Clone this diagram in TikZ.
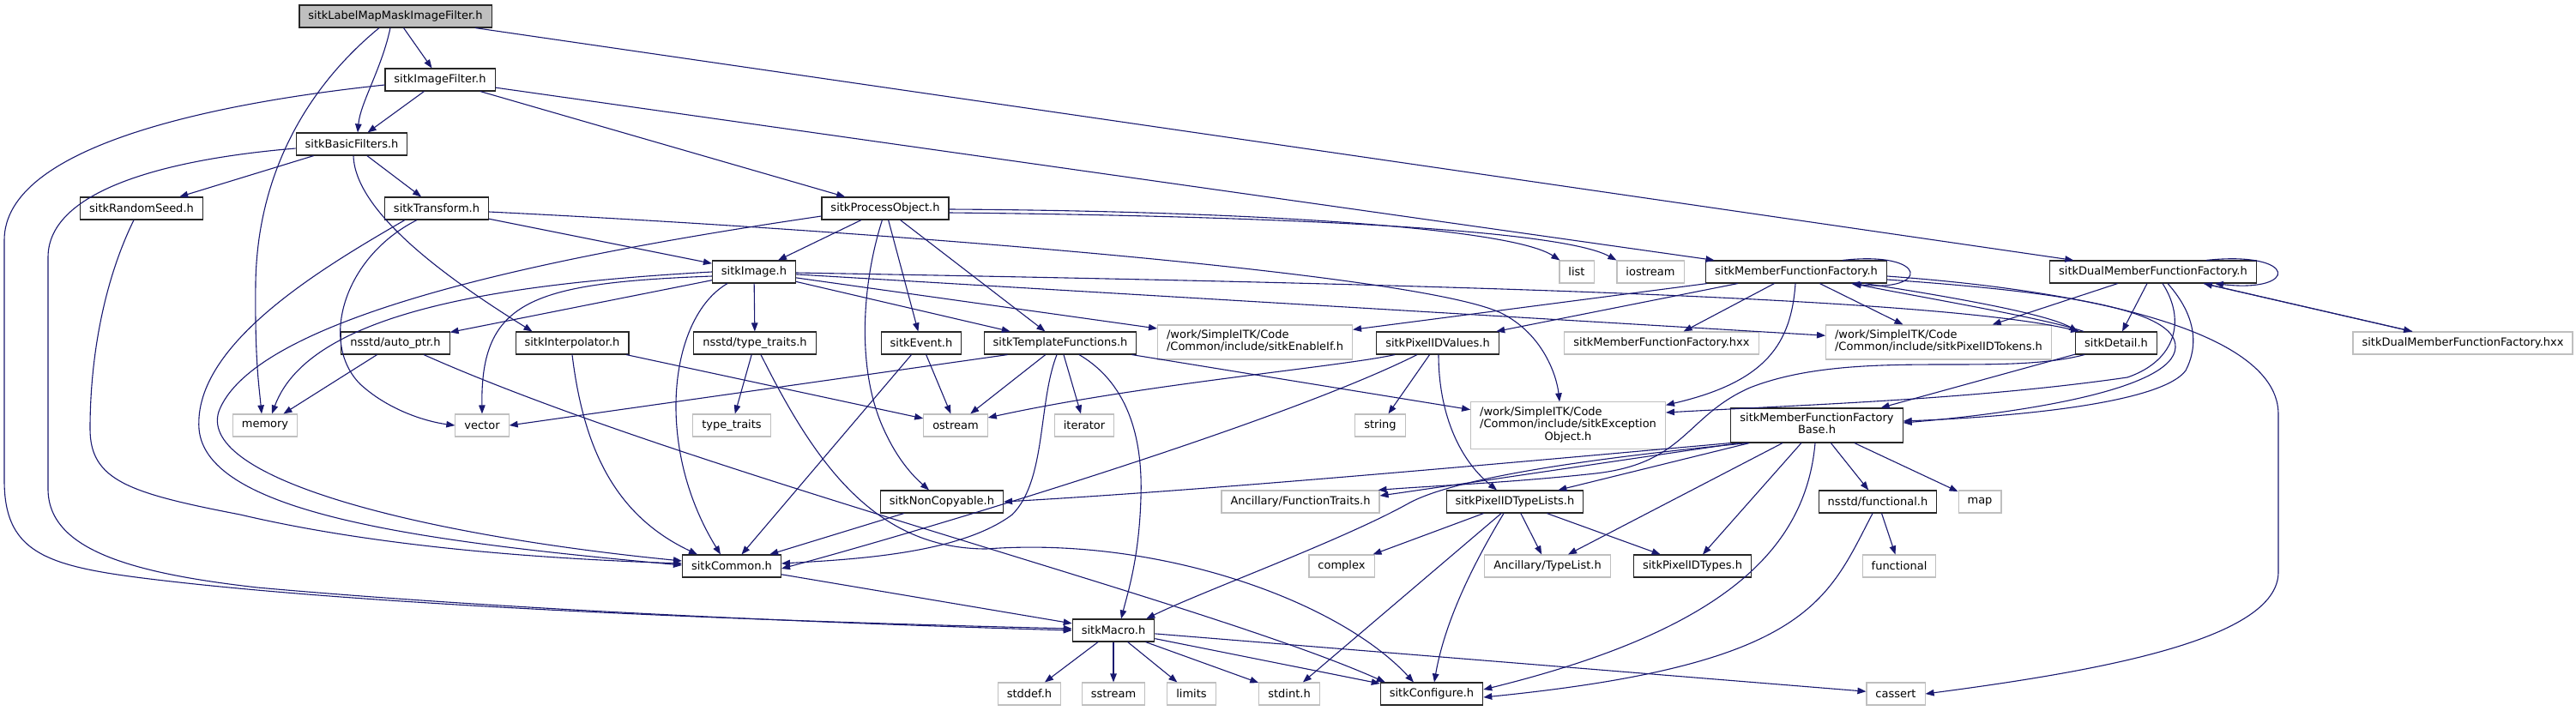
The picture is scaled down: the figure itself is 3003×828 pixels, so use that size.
\documentclass[tikz,border=0pt]{standalone}
\usepackage{fontspec}
\newfontfamily\dejavu{DejaVu Sans}
\usepackage{tikz}
\usetikzlibrary{
  arrows.meta,
  calc
}
\definecolor{midnight}{HTML}{191970}
\definecolor{grey75}{HTML}{BFBFBF}
\colorlet{headerBorder}{black!85}
\colorlet{systemBorder}{grey75}
\tikzset{
  every header/.style={draw=headerBorder,fill=white,line width=1.1pt,
    inner xsep=10.5pt,inner ysep=5.8pt,minimum height=26pt,
    font=\dejavu\fontsize{13}{14.2}\selectfont},
  header/.style={every header},
  sysheader/.style={every header,draw=systemBorder},
  mainheader/.style={every header,fill=grey75},
  include/.style={draw=midnight,line width=1.1pt,
    -{Triangle[length=10pt,width=7.5pt]}},
}

\begin{document}
\begin{tikzpicture}[x=1pt,y=-1pt]
\useasboundingbox (0,0) rectangle (3003,828);
% rows of headers
\node[mainheader] (root) at (461,19) {sitkLabelMapMaskImageFilter.h};
\node[header] (imgfilter) at (513,93) {sitkImageFilter.h};
\node[header] (basic) at (410,168) {sitkBasicFilters.h};
\node[header] (seed) at (165,243) {sitkRandomSeed.h};
\node[header] (transform) at (509,243) {sitkTransform.h};
\node[header] (procobj) at (1032,243) {sitkProcessObject.h};
\node[header] (image) at (879,317) {sitkImage.h};
\node[sysheader] (list) at (1838,317) {list};
\node[sysheader] (iostream) at (1924,317) {iostream};
\node[header] (mff) at (2094,317) {sitkMemberFunctionFactory.h};
\node[header] (dual) at (2510,317) {sitkDualMemberFunctionFactory.h};
\node[header] (autoptr) at (461,400) {nsstd/auto\_ptr.h};
\node[header] (interp) at (667,400) {sitkInterpolator.h};
\node[header] (nstraits) at (880,400) {nsstd/type\_traits.h};
\node[header] (event) at (1074,400) {sitkEvent.h};
\node[header] (tmplfn) at (1236,400) {sitkTemplateFunctions.h};
\node[sysheader] (enableif) at (1463,399) {\begin{tabular}{@{}l@{}}/work/SimpleITK/Code\\/Common/include/sitkEnableIf.h\end{tabular}};
\node[header] (pixvalues) at (1676,400) {sitkPixelIDValues.h};
\node[sysheader] (mffhxx) at (1937,400) {sitkMemberFunctionFactory.hxx};
\node[sysheader] (tokens) at (2260,399) {\begin{tabular}{@{}l@{}}/work/SimpleITK/Code\\/Common/include/sitkPixelIDTokens.h\end{tabular}};
\node[header] (detail) at (2467,400) {sitkDetail.h};
\node[sysheader] (dualhxx) at (2871,400) {sitkDualMemberFunctionFactory.hxx};
\node[sysheader] (memory) at (309,496) {memory};
\node[sysheader] (vector) at (562,496) {vector};
\node[sysheader] (typetraits) at (853,496) {type\_traits};
\node[sysheader] (ostream) at (1114,496) {ostream};
\node[sysheader] (iterator) at (1264,496) {iterator};
\node[sysheader] (string) at (1609,496) {string};
\node[sysheader] (exception) at (1828,496) {\begin{tabular}{@{}l@{}}/work/SimpleITK/Code\\/Common/include/sitkException\\\multicolumn{1}{@{}c@{}}{Object.h}\end{tabular}};
\node[header] (mffbase) at (2118,496) {\begin{tabular}{@{}c@{}}sitkMemberFunctionFactory\\Base.h\end{tabular}};
\node[header] (noncopy) at (1098,585) {sitkNonCopyable.h};
\node[sysheader] (functraits) at (1516,585) {Ancillary/FunctionTraits.h};
\node[header] (typelists) at (1766,585) {sitkPixelIDTypeLists.h};
\node[header] (functionalh) at (2189,585) {nsstd/functional.h};
\node[sysheader] (map) at (2308,585) {map};
\node[header] (common) at (853,660) {sitkCommon.h};
\node[sysheader] (complex) at (1564,660) {complex};
\node[sysheader] (typelist) at (1804,660) {Ancillary/TypeList.h};
\node[header] (pixtypes) at (1973,660) {sitkPixelIDTypes.h};
\node[sysheader] (functional) at (2214,660) {functional};
\node[header] (macro) at (1298,735) {sitkMacro.h};
\node[sysheader] (stddef) at (1200,809) {stddef.h};
\node[sysheader] (sstream) at (1298,809) {sstream};
\node[sysheader] (limits) at (1389,809) {limits};
\node[sysheader] (stdint) at (1503,809) {stdint.h};
\node[header] (configure) at (1669,809) {sitkConfigure.h};
\node[sysheader] (cassert) at (2210,809) {cassert};

% includes of the filter headers
\draw[include] (root) -- (imgfilter);
\draw[include] ($(root.south)+(-6,0)$) .. controls (445,80) and (420,120) .. ($(basic.north)+(7,0)$);
\draw[include] ($(root.south)+(-19,0)$) .. controls (360,100) and (300,200) .. (298,330) .. controls (297,420) and (302,450) .. ($(memory.north)+(-4,0)$);
\draw[include] (root) -- (dual);
\draw[include] (imgfilter) -- (basic);
\draw[include] (imgfilter) -- (procobj);
\draw[include] (imgfilter) -- (mff);
\draw[include] ($(imgfilter.west)+(0,6)$) .. controls (250,120) and (5,170) .. (5,280) -- (5,560) .. controls (5,650) and (60,662) .. (200,678) .. controls (500,712) and (1000,727) .. ($(macro.west)+(0,-2)$);
\draw[include] (basic) -- (seed);
\draw[include] (basic) -- (transform);
\draw[include] ($(basic.south)+(2,0)$) .. controls (414,250) and (530,330) .. ($(interp.north west)+(20,0)$);
\draw[include] ($(basic.west)+(0,5)$) .. controls (200,185) and (56,220) .. (56,300) -- (56,570) .. controls (56,640) and (150,668) .. (300,685) .. controls (600,712) and (1000,728) .. (macro.west);
\draw[include] ($(seed.south)+(-9,0)$) .. controls (120,330) and (105,420) .. (105,500) .. controls (105,560) and (150,575) .. (280,600) .. controls (450,640) and (650,652) .. ($(common.west)+(0,-3)$);
\draw[include] (transform) -- (image);
\draw[include] ($(transform.south west)+(24,0)$) .. controls (380,310) and (225,400) .. (232,500) .. controls (240,600) and (500,632) .. ($(common.west)+(0,-1)$);
\draw[include] ($(transform.south)+(-23,0)$) .. controls (400,300) and (372,400) .. (420,448) .. controls (455,480) and (500,492) .. (vector.west);
\draw[include] ($(transform.east)+(0,4)$) .. controls (1000,268) and (1650,318) .. (1750,365) .. controls (1800,390) and (1815,440) .. ($(exception.north)+(-10,0)$);
\draw[include] (procobj) -- (image);
\draw[include] (procobj) -- (event);
\draw[include] (procobj) -- (tmplfn);
\draw[include] ($(procobj.south west)+(71,0)$) .. controls (1005,330) and (998,430) .. (1030,500) .. controls (1048,540) and (1068,558) .. ($(noncopy.north)+(-15,0)$);
\draw[include] ($(procobj.west)+(0,9)$) .. controls (700,290) and (300,360) .. (255,480) .. controls (230,560) and (500,625) .. ($(common.west)+(0,-6)$);
\draw[include] ($(procobj.east)+(0,1)$) .. controls (1450,246) and (1760,265) .. ($(list.north west)+(1,0)$);
\draw[include] ($(procobj.east)+(0,5)$) .. controls (1500,252) and (1820,268) .. (iostream.north west);

% sitkImage.h and the middle row
\draw[include] (image.west) .. controls (600,330) and (362,360) .. ($(memory.north)+(8,0)$);
\draw[include] ($(image.west)+(0,5)$) .. controls (620,330) and (560,350) .. (vector.north);
\draw[include] (image) -- (autoptr);
\draw[include] ($(image.south)+(-31,0)$) .. controls (780,370) and (762,520) .. ($(common.north)+(-13,0)$);
\draw[include] (image) -- (nstraits);
\draw[include] (image) -- (tmplfn);
\draw[include] (image) -- (enableif);
\draw[include] (image) -- (tokens);
\draw[include] ($(image.east)+(0,1)$) .. controls (1600,330) and (2250,345) .. ($(detail.north west)+(5,0)$);
\draw[include] (interp) -- (ostream);
\draw[include] (interp.south) .. controls (680,520) and (715,600) .. ($(common.north west)+(18,0)$);
\draw[include] (autoptr) -- (memory);
\draw[include] ($(autoptr.south)+(33,0)$) .. controls (800,550) and (1400,700) .. ($(configure.north west)+(6,0)$);
\draw[include] (nstraits) -- (typetraits);
\draw[include] ($(nstraits.south)+(7,0)$) .. controls (950,540) and (1020,640) .. (1150,640) .. controls (1350,625) and (1560,700) .. ($(configure.north)+(-21,0)$);
\draw[include] (event) -- (ostream);
\draw[include] (event) -- (common);
\draw[include] ($(tmplfn.south west)+(28,0)$) -- (vector.east);
\draw[include] (tmplfn) -- (ostream);
\draw[include] (tmplfn) -- (iterator);
\draw[include] ($(tmplfn.south)+(22,0)$) .. controls (1320,450) and (1332,520) .. (1330,580) .. controls (1328,650) and (1315,690) .. ($(macro.north)+(9,0)$);
\draw[include] ($(tmplfn.south)+(-4,0)$) .. controls (1210,470) and (1220,560) .. (1180,600) .. controls (1120,645) and (1000,652) .. ($(common.east)+(0,-3)$);
\draw[include] (tmplfn) -- (exception);
\draw[include] ($(pixvalues.south west)+(22,0)$) .. controls (1560,428) and (1330,448) .. ($(ostream.east)+(0,-9)$);
\draw[include] (pixvalues) -- (string);
\draw[include] ($(pixvalues.south)+(1,0)$) .. controls (1677,480) and (1700,535) .. ($(typelists.north)+(-21,0)$);
\draw[include] ($(pixvalues.south)+(-24,0)$) .. controls (1500,490) and (1100,612) .. ($(common.east)+(0,3)$);

% member function factories
\draw[include] (mff) -- (enableif);
\draw[include] (mff) -- (pixvalues);
\draw[include] (mff) -- (mffhxx);
\draw[include] (mff) -- (tokens);
\draw[include] ($(mff.south east)+(-26,0)$) .. controls (2300,350) and (2390,368) .. ($(detail.north west)+(3,0)$);
\draw[include] ($(mff.south)+(-1,0)$) .. controls (2088,400) and (2060,445) .. ($(exception.north east)+(0,4)$);
\draw[include] ($(mff.east)+(0,9)$) .. controls (2400,340) and (2538,360) .. (2536,405) .. controls (2534,455) and (2350,482) .. ($(mffbase.east)+(0,-3)$);
\draw[include] ($(mff.east)+(0,5)$) .. controls (2450,340) and (2656,390) .. (2656,483) -- (2656,667) .. controls (2656,745) and (2450,782) .. (cassert.east);
\draw[include] ($(mff.north east)+(-52,0)$) .. controls (2250,292) and (2250,342) .. ($(mff.south east)+(-42,0)$);
\draw[include] ($(detail.north west)+(10,0)$) .. controls (2380,370) and (2230,345) .. ($(mff.south east)+(-40,0)$);
\draw[include] (detail) -- (mffbase);
\draw[include] ($(detail.south west)+(11,0)$) .. controls (2330,440) and (2160,405) .. (2040,452) .. controls (1965,485) and (1965,540) .. (1860,552) .. controls (1760,563) and (1660,567) .. ($(functraits.north east)+(-2,0)$);
\draw[include] ($(dual.north east)+(-59,0)$) .. controls (2680,292) and (2680,342) .. ($(dual.south east)+(-49,0)$);
\draw[include] (dual) -- (detail);
\draw[include] (dual) -- (tokens);
\draw[include] (dual) -- (dualhxx);
\draw[include] (dualhxx) -- (dual);
\draw[include] ($(dual.south)+(11,0)$) .. controls (2548,372) and (2538,420) .. (2480,440) .. controls (2300,466) and (2100,472) .. ($(exception.east)+(0,-15)$);
\draw[include] ($(dual.south)+(17,0)$) .. controls (2562,370) and (2562,405) .. (2548,432) .. controls (2520,470) and (2350,486) .. ($(mffbase.east)+(0,-5)$);
\draw[include] (mffbase.south west) .. controls (1700,545) and (1400,572) .. (noncopy.east);
\draw[include] ($(mffbase.south west)+(10,0)$) .. controls (1880,538) and (1700,565) .. ($(functraits.east)+(0,-7)$);
\draw[include] ($(mffbase.south west)+(20,0)$) .. controls (1900,530) and (1700,553) .. (1640,588) .. controls (1560,632) and (1400,690) .. ($(macro.north east)+(-10,0)$);
\draw[include] ($(mffbase.south west)+(22,0)$) -- ($(typelists.north east)+(-30,0)$);
\draw[include] ($(mffbase.south)+(-40,0)$) -- ($(typelist.north)+(24,0)$);
\draw[include] (mffbase) -- (pixtypes);
\draw[include] ($(mffbase.south)+(-2,0)$) .. controls (2105,640) and (2010,735) .. ($(configure.east)+(0,-5)$);
\draw[include] (mffbase) -- (functionalh);
\draw[include] (mffbase) -- (map);
\draw[include] (functionalh) -- (functional);
\draw[include] ($(functionalh.south)+(-6,0)$) .. controls (2130,700) and (2110,775) .. ($(configure.east)+(0,4)$);

% bottom rows
\draw[include] (typelists) -- (complex);
\draw[include] (typelists) -- (typelist);
\draw[include] (typelists) -- (pixtypes);
\draw[include] (typelists) -- (stdint);
\draw[include] ($(typelists.south)+(-13,0)$) .. controls (1722,650) and (1685,720) .. ($(configure.north)+(3,0)$);
\draw[include] (noncopy) -- (common);
\draw[include] (common) -- (macro);
\draw[include] (macro) -- (stddef);
\draw[include] (macro) -- (sstream);
\draw[include] (macro) -- (limits);
\draw[include] (macro) -- (stdint);
\draw[include] (macro) -- (configure);
\draw[include] (macro) -- (cassert);
\end{tikzpicture}
\end{document}
